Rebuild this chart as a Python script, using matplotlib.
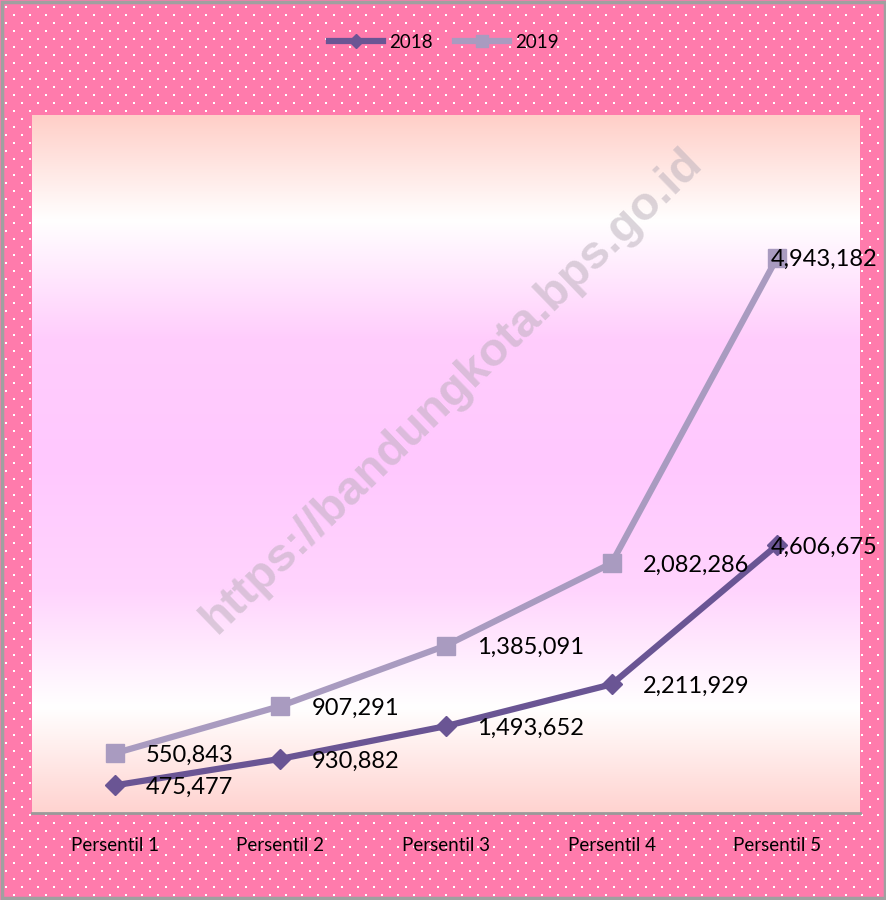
import numpy as np
import matplotlib
matplotlib.use("Agg")
import matplotlib.pyplot as plt
from matplotlib.colors import LinearSegmentedColormap
from matplotlib.lines import Line2D

categories = ["Persentil 1", "Persentil 2", "Persentil 3", "Persentil 4", "Persentil 5"]
series_names = ["2018", "2019"]
values_2018 = [475477, 930882, 1493652, 2211929, 4606675]
values_2019 = [550843, 907291, 1385091, 2082286, 4943182]
y_max = 12000000

W, H, DPI = 887, 900, 100
fig = plt.figure(figsize=(W / DPI, H / DPI), dpi=DPI)

# dotted pink background
bg = np.zeros((H, W, 3))
bg[:] = np.array([255, 123, 172]) / 255
for r, yy in enumerate(range(6, H, 8)):
    off = 5 if r % 2 == 0 else 13
    for xx in range(off, W, 16):
        bg[yy:yy + 2, xx:xx + 2] = 1.0
fig.figimage(bg, 0, 0, zorder=0, origin="upper")
# gray border
fig.patches.append(plt.Rectangle((0.002, 0.002), 0.996, 0.996, transform=fig.transFigure,
                                 fill=False, edgecolor="#a0a0a0", linewidth=2.5, zorder=1))

ax = fig.add_axes([32 / W, 1 - 813 / H, 828 / W, 698 / H])
ax.set_zorder(2)

# gradient plot area
cmap = LinearSegmentedColormap.from_list("grad", [
    (0.0, "#ffcfc8"), (0.15, "#ffffff"), (0.32, "#ffcdfc"), (0.5, "#ffc8ff"),
    (0.68, "#ffd4fd"), (0.85, "#ffffff"), (1.0, "#ffd3d0")])
grad = np.linspace(0, 1, 256).reshape(-1, 1)
ax.imshow(grad, aspect="auto", cmap=cmap, extent=[0, 1, 0, 1], transform=ax.transAxes, zorder=0)

x = np.arange(len(categories))
stack_2018 = np.array(values_2018, dtype=float)
stack_2019 = stack_2018 + np.array(values_2019, dtype=float)

c18 = "#6a5594"
c19 = "#a99bc0"
ax.plot(x, stack_2019, color=c19, linewidth=4.5, marker="s", markersize=13, zorder=3,
        solid_joinstyle="round")
ax.plot(x, stack_2018, color=c18, linewidth=4.5, marker="D", markersize=10, zorder=4,
        solid_joinstyle="round")

ax.set_xlim(-0.5, len(categories) - 0.5)
ax.set_ylim(0, y_max)

font = "Lato"
for i in range(len(categories)):
    dx = 31 if i < len(categories) - 1 else -6
    ax.annotate(f"{values_2019[i]:,}", (x[i], stack_2019[i]), xytext=(dx, -2),
                textcoords="offset pixels", ha="left", va="center", fontsize=17,
                family=font, color="black", zorder=6)
    ax.annotate(f"{values_2018[i]:,}", (x[i], stack_2018[i]), xytext=(dx, -2),
                textcoords="offset pixels", ha="left", va="center", fontsize=17,
                family=font, color="black", zorder=6)

# watermark
ax.text(0.507, 0.605, "https://bandungkota.bps.go.id", transform=ax.transAxes,
        rotation=44, ha="center", va="center", fontsize=34, fontweight="bold",
        family="Liberation Sans", color=(0.72, 0.68, 0.72), alpha=0.5, zorder=2)

ax.set_xticks(x)
ax.set_xticklabels(categories, family=font, fontsize=13.5)
ax.tick_params(axis="x", length=0, pad=17)
ax.set_yticks([])
for s in ["top", "left", "right"]:
    ax.spines[s].set_visible(False)
ax.spines["bottom"].set_color("#9a9a9a")
ax.spines["bottom"].set_linewidth(2)

handles = [Line2D([], [], color=c18, linewidth=4.5, marker="D", markersize=7),
           Line2D([], [], color=c19, linewidth=4.5, marker="s", markersize=9)]
fig.legend(handles, series_names, loc="center", bbox_to_anchor=(0.5, 1 - 42 / H),
           ncol=2, frameon=False, prop={"family": font, "size": 13.5}, handlelength=2.9,
           columnspacing=1.2, handletextpad=0.3)

fig.savefig("out.png", dpi=DPI)
